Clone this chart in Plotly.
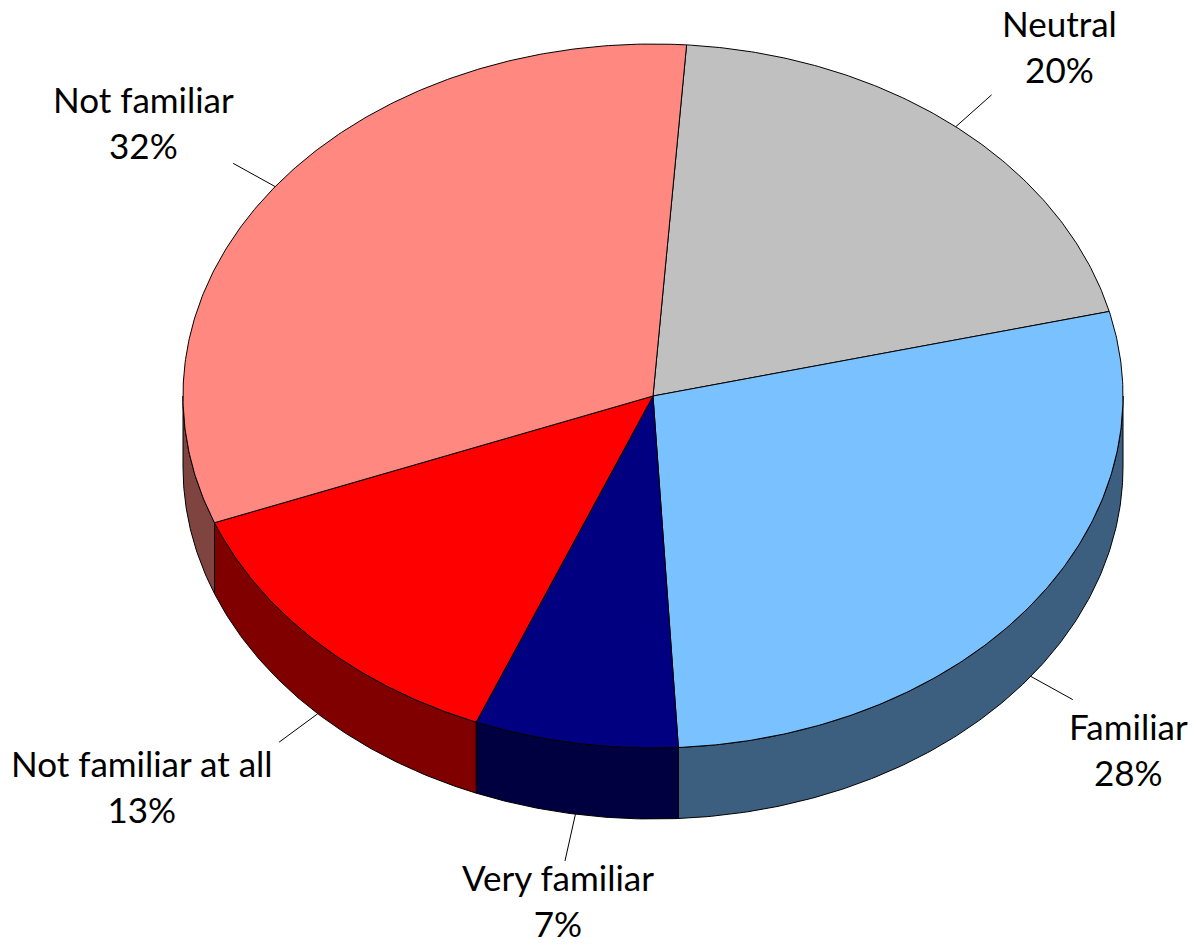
import math
import plotly.graph_objects as go

# ---- data (clockwise order, starting near 12 o'clock) ----
categories = ["Neutral", "Familiar", "Very familiar", "Not familiar at all", "Not familiar"]
shares = [20, 28, 7, 13, 32]
top_colors = ["#C0C0C0", "#79C1FF", "#000080", "#FF0000", "#FF8880"]
side_colors = ["#606060", "#3C5F7F", "#000040", "#800000", "#7F4440"]

# ---- geometry / layout settings ----
W, H = 1196, 946
CX, CY = 653, 396
RX, RY = 470, 352
DEPTH = 71
START = 4.1          # degrees clockwise from 12 o'clock
LEADER = 48
FONT = dict(family="Lato, 'Open Sans', sans-serif", size=35, color="black")
# label block centres (layout, page pixels)
LABEL_POS = {
    "Neutral": (1059, 46),
    "Not familiar": (143, 122),
    "Familiar": (1128, 749),
    "Not familiar at all": (142, 786),
    "Very familiar": (558, 900),
}


def pt(theta, dz=0.0):
    t = math.radians(theta)
    return CX + RX * math.sin(t), CY - RY * math.cos(t) + dz


def arc(a, b, dz=0.0, n=None):
    n = n or max(4, int(abs(b - a) * 2))
    xs, ys = [], []
    for i in range(n + 1):
        x, y = pt(a + (b - a) * i / n, dz)
        xs.append(x)
        ys.append(y)
    return xs, ys


fig = go.Figure()
total = sum(shares)
bounds = []
acc = START
for v in shares:
    a = acc
    b = acc + v / total * 360
    bounds.append((a, b))
    acc = b

# side walls (front half only)
for (a, b), sc in zip(bounds, side_colors):
    for k in range(-1, 3):
        lo, hi = 90 + 360 * k, 270 + 360 * k
        s, e = max(a, lo), min(b, hi)
        if e > s:
            tx, ty = arc(s, e)
            bx, by = arc(e, s, DEPTH)
            fig.add_trace(go.Scatter(
                x=tx + bx + [tx[0]], y=ty + by + [ty[0]],
                mode="lines", fill="toself", fillcolor=sc,
                line=dict(color="black", width=1), hoverinfo="skip",
                showlegend=False))

# top faces
for (a, b), tc in zip(bounds, top_colors):
    ax_, ay_ = arc(a, b)
    fig.add_trace(go.Scatter(
        x=[CX] + ax_ + [CX], y=[CY] + ay_ + [CY],
        mode="lines", fill="toself", fillcolor=tc,
        line=dict(color="black", width=1), hoverinfo="skip",
        showlegend=False))

# labels with leader lines
for (a, b), name, v in zip(bounds, categories, shares):
    m = (a + b) / 2
    mm = m % 360
    front = 90 < mm < 270
    x0, y0 = pt(m, DEPTH if front else 0)
    t = math.radians(m)
    dx, dy = RX * math.sin(t), -RY * math.cos(t)
    norm = math.hypot(dx, dy)
    x1, y1 = x0 + dx / norm * LEADER, y0 + dy / norm * LEADER
    fig.add_trace(go.Scatter(x=[x0, x1], y=[y0, y1], mode="lines",
                             line=dict(color="black", width=1),
                             hoverinfo="skip", showlegend=False))
    lx, ly = LABEL_POS[name]
    fig.add_annotation(x=lx, y=ly, text=f"{name}<br>{v}%", showarrow=False,
                       xanchor="center", yanchor="middle", align="center",
                       font=FONT, borderpad=0)

fig.update_layout(
    width=W, height=H,
    margin=dict(l=0, r=0, t=0, b=0),
    paper_bgcolor="white", plot_bgcolor="white",
    xaxis=dict(range=[0, W], visible=False, fixedrange=True),
    yaxis=dict(range=[H, 0], visible=False, fixedrange=True),
    showlegend=False,
)

fig.write_html(
    "out.html",
    config={"displayModeBar": False},
    post_script="document.body.style.margin='0';document.body.style.overflow='hidden';",
)
